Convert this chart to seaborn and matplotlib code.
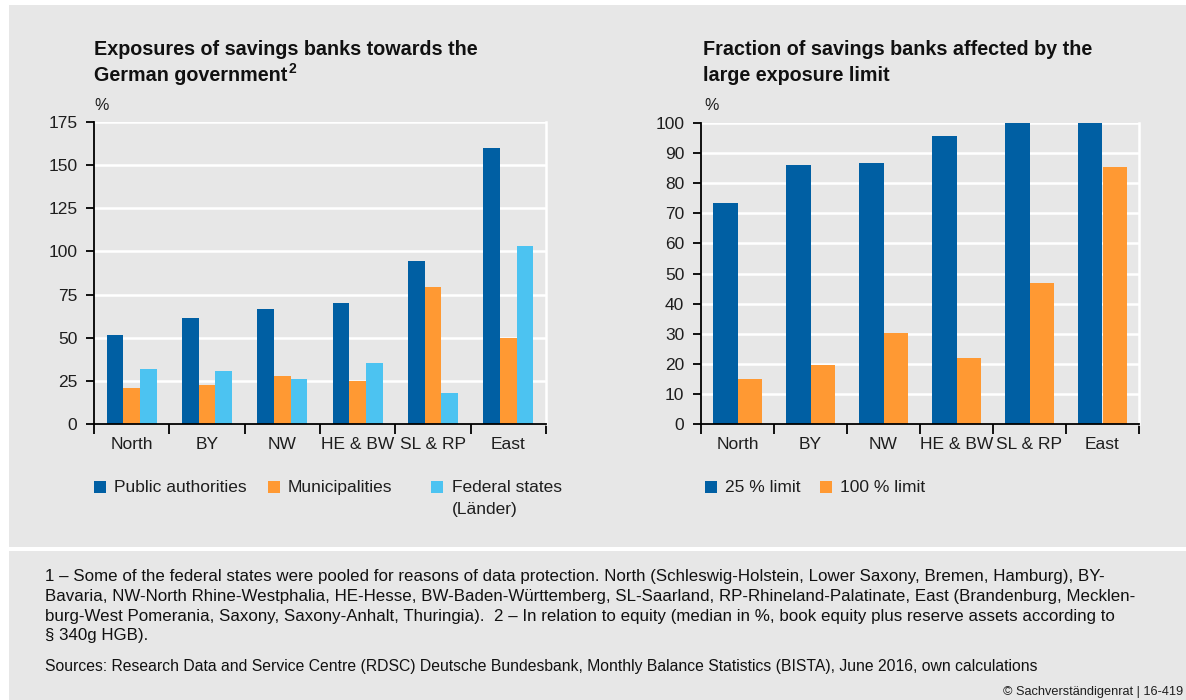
import matplotlib
matplotlib.use("Agg")
import matplotlib.pyplot as plt
import matplotlib.patches as mpatches
import seaborn as sns
import pandas as pd
import numpy as np

sns.set_theme(style="white")
plt.rcParams['font.family'] = ['Liberation Sans', 'DejaVu Sans']

regions = ["North", "BY", "NW", "HE & BW", "SL & RP", "East"]

# Left chart: exposures (% of equity, median)
public_authorities = [51.5, 61.5, 66.5, 70, 94.5, 160]
municipalities = [21, 22.5, 28, 25, 79.5, 50]
federal_states = [32, 31, 26, 35.5, 18, 103]
left_series = ["Public authorities", "Municipalities", "Federal states\n(Länder)"]

# Right chart: fraction of savings banks affected (%)
limit_25 = [73.3, 86, 86.7, 95.7, 100, 100]
limit_100 = [15, 19.7, 30.3, 22, 46.8, 85.3]
right_series = ["25 % limit", "100 % limit"]

DARK = "#005fa3"
ORANGE = "#ff9933"
LIGHT = "#4cc3f1"
BG = "#e7e7e7"
TXT = "#1e1e1e"

df_left = pd.DataFrame({
    "region": regions * 3,
    "series": [left_series[0]] * 6 + [left_series[1]] * 6 + [left_series[2]] * 6,
    "value": public_authorities + municipalities + federal_states,
})
df_right = pd.DataFrame({
    "region": regions * 2,
    "series": [right_series[0]] * 6 + [right_series[1]] * 6,
    "value": limit_25 + limit_100,
})

W, H = 1186, 700
fig = plt.figure(figsize=(W / 100, H / 100), dpi=100)
fig.patch.set_facecolor("white")

# gray panels
fig.patches.append(mpatches.Rectangle((9 / W, 1 - 547 / H), 1 - 9 / W, (547 - 5) / H,
                                      transform=fig.transFigure, facecolor=BG, edgecolor="none", zorder=-10))
fig.patches.append(mpatches.Rectangle((9 / W, 0), 1 - 9 / W, 1 - 551 / H,
                                      transform=fig.transFigure, facecolor=BG, edgecolor="none", zorder=-10))

FS = 12.5


def style_axes(ax, ymax, step):
    ax.set_zorder(5)
    ax.set_facecolor(BG)
    ax.set_xlim(-0.5, 5.5)
    ax.set_ylim(0, ymax)
    ax.set_yticks(np.arange(0, ymax + 0.1, step))
    ax.yaxis.grid(True, color="white", linewidth=1.8)
    ax.set_axisbelow(True)
    ax.spines["top"].set_visible(False)
    ax.spines["right"].set_color("white")
    ax.spines["right"].set_linewidth(1.8)
    ax.spines["left"].set_color("black")
    ax.spines["bottom"].set_color("black")
    ax.spines["left"].set_linewidth(1.3)
    ax.spines["bottom"].set_linewidth(1.3)
    ax.set_xticks(np.arange(-0.5, 6, 1))
    ax.set_xticklabels([])
    ax.set_xticks(np.arange(0, 6), minor=True)
    ax.set_xticklabels(regions, minor=True, fontsize=FS, color=TXT)
    ax.tick_params(axis="x", which="major", direction="out", length=7, width=1.3, color="black", bottom=True)
    ax.tick_params(axis="x", which="minor", length=0, pad=9, bottom=True)
    ax.tick_params(axis="y", direction="out", length=6, width=1.3, color="black", labelsize=FS,
                   labelcolor=TXT, left=True, pad=6)
    ax.set_xlabel("")
    ax.set_ylabel("")


ax1 = fig.add_axes([94 / W, 1 - 424 / H, (546 - 94) / W, (424 - 122) / H])
sns.barplot(data=df_left, x="region", y="value", hue="series", order=regions,
            hue_order=left_series, palette=[DARK, ORANGE, LIGHT], saturation=1,
            width=0.66, ax=ax1, legend=False, linewidth=0, edgecolor="none")
style_axes(ax1, 175, 25)

ax2 = fig.add_axes([701 / W, 1 - 424 / H, (1139 - 701) / W, (424 - 123) / H])
sns.barplot(data=df_right, x="region", y="value", hue="series", order=regions,
            hue_order=right_series, palette=[DARK, ORANGE], saturation=1,
            width=0.66, ax=ax2, legend=False, linewidth=0, edgecolor="none")
style_axes(ax2, 100, 10)

# titles
TFS = 14.2
fig.text(94 / W, 1 - 55 / H, "Exposures of savings banks towards the",
         fontsize=TFS, fontweight="bold", ha="left", va="baseline", color="#111111")
t2 = fig.text(94 / W, 1 - 81 / H, "German government",
              fontsize=TFS, fontweight="bold", ha="left", va="baseline", color="#111111")
renderer = fig.canvas.get_renderer()
bb = t2.get_window_extent(renderer=renderer)
fig.text((bb.x1 + 1) / W, 1 - 73 / H, "2", fontsize=10, fontweight="bold", ha="left", va="baseline",
         color="#111111")
fig.text(703 / W, 1 - 55 / H, "Fraction of savings banks affected by the",
         fontsize=TFS, fontweight="bold", ha="left", va="baseline", color="#111111")
fig.text(703 / W, 1 - 81 / H, "large exposure limit",
         fontsize=TFS, fontweight="bold", ha="left", va="baseline", color="#111111")
fig.text(94 / W, 1 - 105 / H, "%", fontsize=11.5, ha="left", va="center", color=TXT)
fig.text(704 / W, 1 - 105 / H, "%", fontsize=11.5, ha="left", va="center", color=TXT)


# legends
def legend_item(x, y, color, label):
    fig.patches.append(mpatches.Rectangle((x / W, 1 - (y + 6) / H), 12 / W, 12 / H,
                                          transform=fig.transFigure, facecolor=color, edgecolor="none"))
    if label:
        fig.text((x + 20) / W, 1 - (y + 5) / H, label, fontsize=FS, ha="left", va="baseline", color=TXT)


legend_item(94, 487, DARK, left_series[0])
legend_item(268, 487, ORANGE, left_series[1])
legend_item(431, 487, LIGHT, "")
fig.text(452 / W, 1 - 492 / H, left_series[2].split("\n")[0], fontsize=FS, ha="left", va="baseline", color=TXT)
fig.text(452 / W, 1 - 514 / H, left_series[2].split("\n")[1], fontsize=FS, ha="left", va="baseline", color=TXT)

legend_item(705, 487, DARK, right_series[0])
legend_item(820, 487, ORANGE, right_series[1])

# footnotes
foot = ("1 – Some of the federal states were pooled for reasons of data protection. North (Schleswig-Holstein, Lower Saxony, Bremen, Hamburg), BY-\n"
        "Bavaria, NW-North Rhine-Westphalia, HE-Hesse, BW-Baden-Württemberg, SL-Saarland, RP-Rhineland-Palatinate, East (Brandenburg, Mecklen-\n"
        "burg-West Pomerania, Saxony, Saxony-Anhalt, Thuringia).  2 – In relation to equity (median in %, book equity plus reserve assets according to\n"
        "§ 340g HGB).")
fig.text(45 / W, 1 - 569 / H, foot, fontsize=12.2, ha="left", va="top", color="#111111", linespacing=1.4)
fig.text(45 / W, 1 - 667 / H,
         "Sources: Research Data and Service Centre (RDSC) Deutsche Bundesbank, Monthly Balance Statistics (BISTA), June 2016, own calculations",
         fontsize=11.3, ha="left", va="center", color="#111111")
fig.text(1183 / W, 1 - 692 / H, "© Sachverständigenrat | 16-419", fontsize=9.2, ha="right", va="center",
         color=TXT)

fig.savefig("out.png", dpi=100, facecolor=fig.get_facecolor())
